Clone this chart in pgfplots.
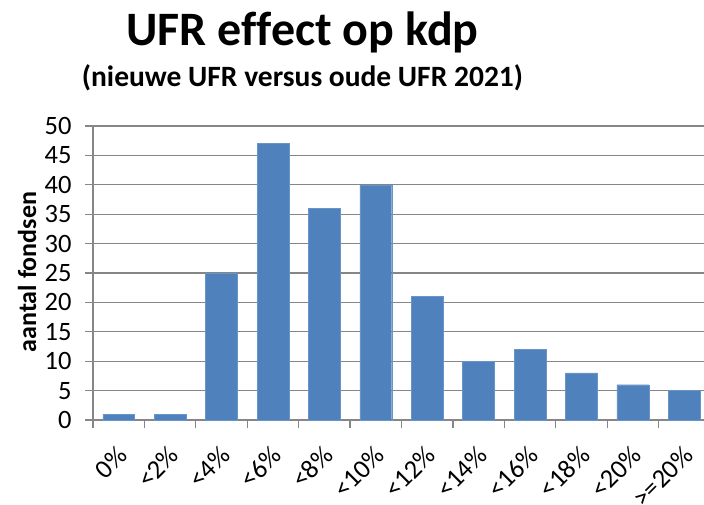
\documentclass[border=0pt]{standalone}
\usepackage{pgfplots}
\pgfplotsset{compat=1.18}
\usepackage{fontspec}
\setmainfont[Ligatures=CommonOff]{Carlito}
\definecolor{barblue}{HTML}{4F81BD}
\definecolor{gridgray}{HTML}{868686}
\begin{document}
\begin{tikzpicture}[x=1pt,y=1pt]
\begin{axis}[
  at={(0,0)}, anchor=south west,
  scale only axis,
  width=617pt, height=294pt,
  xmin=-0.5, xmax=11.5,
  ymin=0, ymax=50,
  ytick={0,5,...,50},
  xtick={-0.5,0.5,...,11.5},
  x tick label as interval,
  xticklabels={0\%,<2\%,<4\%,<6\%,<8\%,<10\%,<12\%,<14\%,<16\%,<18\%,<20\%,>=20\%},
  axis x line*=bottom,
  axis y line*=left,
  axis line style={gridgray, line width=1.2pt},
  tick style={gridgray, line width=1.2pt},
  tick align=outside,
  major tick length=8pt,
  ymajorgrids,
  grid style={gridgray, line width=1.2pt},
  /pgf/number format/assume math mode=true,
  tick label style={font=\fontsize{26.5}{26.5}\selectfont},
  yticklabel style={xshift=-10pt},
  xticklabel style={xshift=4pt, yshift=-23pt, rotate=45, anchor=east, inner sep=0pt},
]
\addplot[ybar, bar width=0.62, fill=barblue, draw=barblue!85!white] coordinates {
(0,1) (1,1) (2,25) (3,47) (4,36) (5,40) (6,21) (7,10) (8,12) (9,8) (10,6) (11,5)
};
\end{axis}
\node[anchor=base, font=\fontsize{48}{48}\bfseries\selectfont] at (209.6,374) {UFR effect op kdp};
\node[anchor=base, font=\fontsize{29.5}{29.5}\bfseries\selectfont] at (209.5,333) {(nieuwe UFR versus oude UFR 2021)};
\node[rotate=90, font=\fontsize{26}{26}\bfseries\selectfont] at (-66,148) {aantal fondsen};
\pgfresetboundingbox
\path[use as bounding box] (-93,-84) rectangle (611,420);
\end{tikzpicture}
\end{document}
